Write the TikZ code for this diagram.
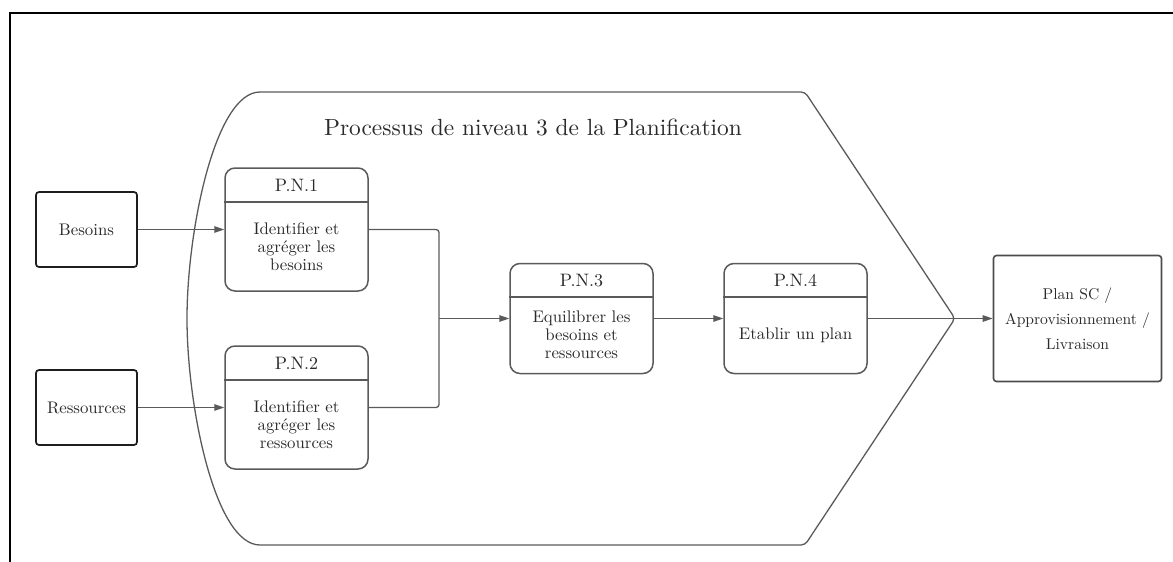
\documentclass[tikz,border=0pt]{standalone}
\usepackage{fontspec}
\setmainfont{lmroman10-regular}[Extension=.otf]
\usetikzlibrary{arrows.meta}
\definecolor{ink}{HTML}{2A2A2A}
\definecolor{edge}{HTML}{5A5A5A}
\definecolor{dark}{HTML}{1E1E1E}
\begin{document}
\begin{tikzpicture}[x=1pt,y=-1pt,
  inbox/.style={draw=dark,line width=1.7pt,rounded corners=3pt,minimum width=101pt,minimum height=75pt,inner sep=0pt,text=ink,font=\fontsize{16.8}{19}\selectfont},
  procbox/.style={draw=edge,line width=1.5pt,rounded corners=10pt,minimum width=143pt,minimum height=123pt,inner sep=0pt},
  proctext/.style={text=ink,align=center,inner sep=0pt,font=\fontsize{16.8}{18}\selectfont},
  headtext/.style={text=ink,inner sep=0pt,font=\fontsize{18}{20}\selectfont},
  outbox/.style={draw=edge!85!black,line width=1.6pt,rounded corners=3pt,minimum width=168pt,minimum height=126pt,inner sep=0pt,text=ink,align=center,font=\fontsize{15.6}{25}\selectfont},
  sep/.style={draw=edge,line width=1.5pt},
  conn/.style={draw=edge,line width=1.3pt},
  arr/.style={conn,-{Triangle[length=10pt,width=6.5pt]}},
  container/.style={draw=edge,line width=1.3pt}]
\useasboundingbox (0,0) rectangle (1173,562);

% outer frame
\draw[line width=2.2pt,black] (10,562) -- (10,13) -- (1173,13);

% process container (chevron)
\draw[container,rounded corners=4pt] (260,92) -- (805,92) -- (955,318.5) -- (805,545) -- (260,545);
\draw[container] (260,545) .. controls (215,545) and (187,406) .. (187,318.5)
  .. controls (187,231) and (215,92) .. (260,92);
\node[text=ink,font=\fontsize{23.4}{26}\selectfont] (title) at (533,128) {Processus de niveau 3 de la Planification};

% inputs
\node[inbox] (bes) at (86.5,229.5) {Besoins};
\node[inbox] (res) at (86.5,407.5) {Ressources};

% P.N.1
\node[procbox] (pn1) at (296.5,229.5) {};
\draw[sep] (pn1.west |- 0,202) -- (pn1.east |- 0,202);
\node[headtext] (pn1h) at (296.5,185.5) {P.N.1};
\node[proctext] (pn1b) at (296.5,246.5) {Identifier et\\agréger les\\besoins};

% P.N.2
\node[procbox] (pn2) at (296.5,407.5) {};
\draw[sep] (pn2.west |- 0,380) -- (pn2.east |- 0,380);
\node[headtext] (pn2h) at (296.5,363.5) {P.N.2};
\node[proctext] (pn2b) at (296.5,424.5) {Identifier et\\agréger les\\ressources};

% P.N.3
\node[procbox,minimum height=110pt] (pn3) at (581.5,318.5) {};
\draw[sep] (pn3.west |- 0,297) -- (pn3.east |- 0,297);
\node[headtext] (pn3h) at (581.5,280.5) {P.N.3};
\node[proctext] (pn3b) at (581.5,335) {Equilibrer les\\besoins et\\ressources};

% P.N.4
\node[procbox,minimum height=110pt] (pn4) at (795.5,318.5) {};
\draw[sep] (pn4.west |- 0,297) -- (pn4.east |- 0,297);
\node[headtext] (pn4h) at (795.5,280.5) {P.N.4};
\node[proctext] (pn4b) at (795.5,335) {Etablir un plan};

% output
\node[outbox] (out) at (1077.5,318.5) {Plan SC /\\Approvisionnement /\\Livraison};

% connectors
\coordinate (merge) at (439,318.5);
\draw[arr] (bes) -- (pn1);
\draw[arr] (res) -- (pn2);
\draw[conn,rounded corners=3pt] (pn1.east) -| (merge);
\draw[conn,rounded corners=3pt] (pn2.east) -| (merge);
\draw[arr] (merge) -- (pn3);
\draw[arr] (pn3) -- (pn4);
\draw[arr] (pn4) -- (out);
\end{tikzpicture}
\end{document}
